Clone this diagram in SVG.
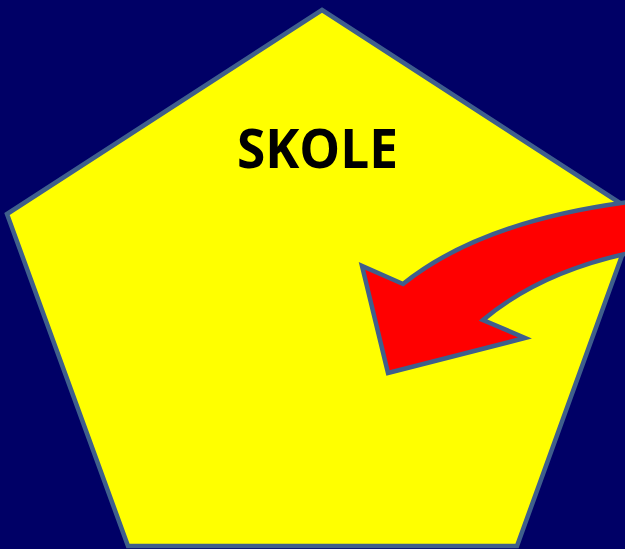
<svg xmlns="http://www.w3.org/2000/svg" width="625" height="549" viewBox="0 0 625 549">
<style>
.edge{stroke:#3F5F8C;stroke-width:4.5;stroke-linejoin:miter}
.lbl{font-family:"Open Sans","Liberation Sans",sans-serif;font-weight:bold;font-size:54px;fill:#000}
</style>
<rect width="625" height="549" fill="#000066"/>
<g id="skole">
<polygon class="edge" fill="#FFFF00" points="322,10 637,214 517,546 128,546 7,214"/>
<text class="lbl" x="317.5" y="168" text-anchor="middle" textLength="161" lengthAdjust="spacingAndGlyphs">SKOLE</text>
</g>
<g id="connectors">
<path class="edge" fill="#FF0000" d="M388,373 L362,266 L403,284 Q485,218 645,200 L645,250 Q545,268 483,320 L525,338 Z"/>
</g>
</svg>
